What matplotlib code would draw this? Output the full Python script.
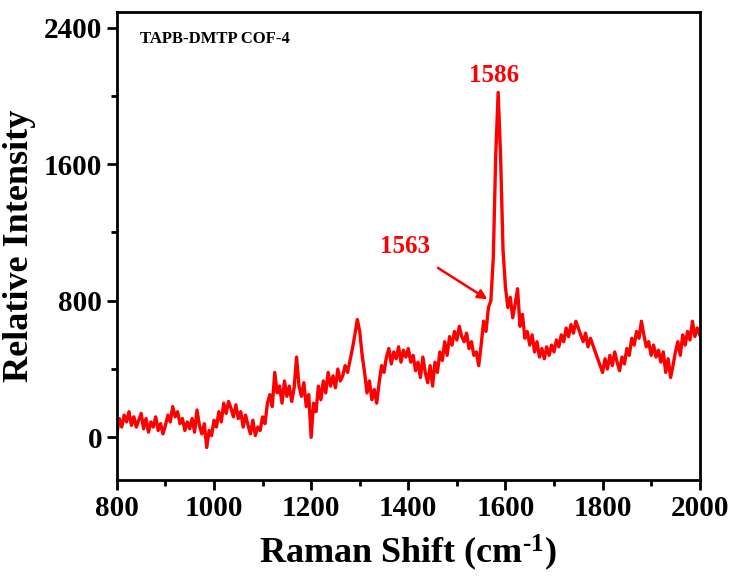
import numpy as np
import matplotlib.pyplot as plt
from matplotlib.ticker import MultipleLocator

# Raman spectrum, 5 cm-1 steps from 800 to 2000
shift = np.arange(800, 2001, 5)
intensity = [
    20, 110, 60, 130, 90, 150, 70, 120, 60, 100,
    140, 50, 110, 30, 90, 60, 120, 40, 80, 20,
    70, 130, 90, 180, 120, 150, 80, 110, 40, 90,
    50, 110, 30, 160, 70, 20, 80, -60, 40, 10,
    100, 60, 150, 90, 200, 140, 210, 170, 120, 190,
    110, 150, 60, 130, 70, 20, 100, 10, 60, 40,
    120, 80, 200, 250, 180, 380, 260, 300, 200, 330,
    240, 300, 210, 290, 470, 300, 240, 320, 180, 250,
    0, 200, 150, 300, 220, 330, 260, 380, 300, 360,
    290, 400, 330, 360, 420, 380, 450, 520, 600, 690,
    620, 480, 380, 260, 330, 220, 280, 200, 320, 420,
    380, 470, 520, 430, 500, 460, 530, 440, 510, 470,
    520, 440, 480, 390, 440, 350, 470, 380, 320, 420,
    300, 440, 380, 500, 450, 560, 480, 590, 540, 620,
    570, 650, 590, 560, 610, 520, 560, 480, 500, 420,
    540, 680, 620, 760, 800, 1050, 1650, 2020, 1650, 1100,
    880, 760, 820, 700, 780, 870, 650, 720, 580, 620,
    540, 600, 500, 560, 470, 520, 460, 530, 480, 540,
    500, 570, 530, 600, 560, 640, 590, 660, 610, 680,
    640, 600, 560, 610, 530, 580, 540, 500, 460, 420,
    380, 460, 400, 480, 420, 500, 440, 390, 470, 430,
    520, 480, 580, 540, 620, 580, 680, 600, 530, 560,
    480, 540, 470, 510, 440, 500, 380, 460, 350, 420,
    500, 560, 480, 600, 540, 620, 570, 680, 590, 640,
    600,
]

plt.rcParams['font.family'] = ['Liberation Serif', 'DejaVu Serif']
plt.rcParams['font.weight'] = 'bold'
plt.rcParams['mathtext.fontset'] = 'custom'
plt.rcParams['mathtext.rm'] = 'Liberation Serif:bold'
plt.rcParams['mathtext.bf'] = 'Liberation Serif:bold'
plt.rcParams['mathtext.default'] = 'bf'

fig = plt.figure(figsize=(7.35, 5.79), dpi=100)
ax = fig.add_axes([0.159, 0.171, 0.793, 0.808])

ax.plot(shift, intensity, color='#ff0000', lw=2.4)

ax.set_xlim(800, 2000)
ax.set_ylim(-250, 2490)
ax.xaxis.set_major_locator(MultipleLocator(200))
ax.xaxis.set_minor_locator(MultipleLocator(100))
ax.yaxis.set_major_locator(MultipleLocator(800))
ax.yaxis.set_minor_locator(MultipleLocator(400))
ax.tick_params(which='both', direction='out', width=2, labelsize=21)
ax.tick_params(which='major', length=7)
ax.tick_params(which='minor', length=4)
for s in ax.spines.values():
    s.set_linewidth(2)

ax.set_xlabel('Raman Shift (cm$^{\\text{-1}}$)', fontsize=26, fontweight='bold', labelpad=8)
ax.set_ylabel('Relative Intensity', fontsize=26, fontweight='bold', labelpad=6)

ax.text(847, 2330, 'TAPB-DMTP COF-4', fontsize=12, fontweight='bold', va='center')
ax.text(1576, 2120, '1586', fontsize=18, fontweight='bold', color='#ff0000', ha='center', va='center')
ax.annotate('1563', xy=(1563, 808), xytext=(1393, 1115), fontsize=18, fontweight='bold',
            color='#ff0000', ha='center', va='center',
            arrowprops=dict(arrowstyle='-|>', color='#ff0000', lw=1.8, shrinkA=9, shrinkB=0,
                            mutation_scale=14))

fig.savefig('out.png', dpi=100)
